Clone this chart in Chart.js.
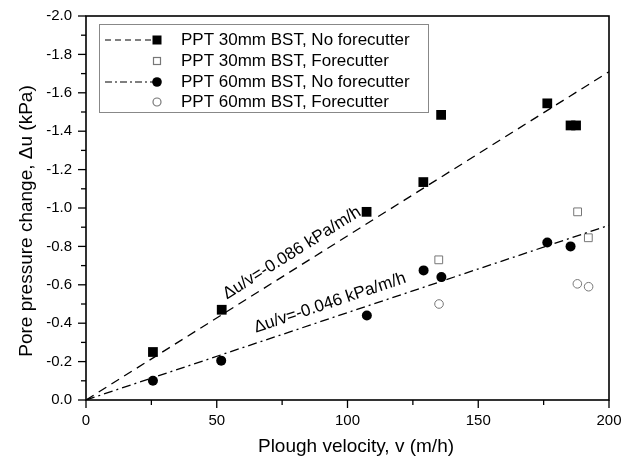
<!DOCTYPE html>
<html lang="en">
<head>
    <meta charset="UTF-8">
    <title>Pore pressure change vs plough velocity</title>
    <script src="https://cdn.jsdelivr.net/npm/chart.js@4.4.1/dist/chart.umd.min.js"></script>
    <style>
        html, body { margin: 0; padding: 0; background: #fff; }
        #chart { display: block; }
    </style>
</head>
<body>
    <canvas id="chart" width="633" height="461"></canvas>

    <script>
      // PPT 30mm BST, no forecutter (filled squares)
      const sq30NoFcX = [25.6, 51.9, 107.3, 129.0, 135.8, 176.4, 185.3, 187.4];
      const sq30NoFcY = [-0.25, -0.47, -0.98, -1.135, -1.485, -1.545, -1.43, -1.43];

      // PPT 30mm BST, forecutter (open squares)
      const sq30FcX = [134.9, 188.0, 192.1];
      const sq30FcY = [-0.73, -0.98, -0.845];

      // PPT 60mm BST, no forecutter (filled circles)
      const ci60NoFcX = [25.6, 51.7, 107.4, 129.1, 135.9, 176.4, 185.3];
      const ci60NoFcY = [-0.10, -0.205, -0.44, -0.675, -0.64, -0.82, -0.80];

      // PPT 60mm BST, forecutter (open circles)
      const ci60FcX = [135.0, 187.9, 192.2];
      const ci60FcY = [-0.50, -0.605, -0.59];

      // fitted lines (end points)
      const fit30X = [0, 200];
      const fit30Y = [0, -1.71];
      const fit60X = [0, 200];
      const fit60Y = [0, -0.91];

      const legendLabels = [
        'PPT 30mm BST, No forecutter',
        'PPT 30mm BST, Forecutter',
        'PPT 60mm BST, No forecutter',
        'PPT 60mm BST, Forecutter'
      ];
      const fitLabels = ['\u0394u/v=-0.086 kPa/m/h', '\u0394u/v=-0.046 kPa/m/h'];
      const xTitle = 'Plough velocity, v (m/h)';
      const yTitle = 'Pore pressure change, \u0394u (kPa)';

      const FONT = '"Liberation Sans", Arial, sans-serif';
      const GREY = '#777';

      function toPoints(xs, ys) {
        return xs.map((x, i) => ({ x: x, y: ys[i] }));
      }

      // tick marks, frame, axis titles, fit labels and the legend box
      const extrasPlugin = {
        id: 'extras',
        afterDraw(chart) {
          const ctx = chart.ctx;
          const xs = chart.scales.x;
          const ys = chart.scales.y;
          const area = chart.chartArea;

          ctx.save();
          ctx.strokeStyle = '#000';
          ctx.lineWidth = 1.3;
          // x ticks (outward)
          for (let v = 0; v <= 200; v += 25) {
            const px = xs.getPixelForValue(v);
            const len = (v % 50 === 0) ? 8 : 5;
            ctx.beginPath();
            ctx.moveTo(px, area.bottom);
            ctx.lineTo(px, area.bottom + len);
            ctx.stroke();
          }
          // y ticks (outward)
          for (let i = 0; i <= 20; i++) {
            const py = ys.getPixelForValue(-i / 10);
            const len = (i % 2 === 0) ? 8 : 5;
            ctx.beginPath();
            ctx.moveTo(area.left, py);
            ctx.lineTo(area.left - len, py);
            ctx.stroke();
          }
          // frame
          ctx.lineWidth = 1.6;
          ctx.strokeRect(area.left, area.top, area.right - area.left, area.bottom - area.top);

          // axis titles
          ctx.fillStyle = '#000';
          ctx.font = '19px ' + FONT;
          ctx.textAlign = 'center';
          ctx.textBaseline = 'alphabetic';
          ctx.fillText(xTitle, 356, 452);
          ctx.save();
          ctx.translate(32, 221);
          ctx.rotate(-Math.PI / 2);
          ctx.fillText(yTitle, 0, 0);
          ctx.restore();

          // fit labels along the lines
          ctx.font = '17px ' + FONT;
          ctx.textBaseline = 'middle';
          const fitDefs = [
            { text: fitLabels[0], x: 78.8, y: -0.765, ex: fit30X, ey: fit30Y },
            { text: fitLabels[1], x: 93.3, y: -0.505, ex: fit60X, ey: fit60Y }
          ];
          fitDefs.forEach(f => {
            const dx = xs.getPixelForValue(f.ex[1]) - xs.getPixelForValue(f.ex[0]);
            const dy = ys.getPixelForValue(f.ey[1]) - ys.getPixelForValue(f.ey[0]);
            ctx.save();
            ctx.translate(xs.getPixelForValue(f.x), ys.getPixelForValue(f.y));
            ctx.rotate(Math.atan2(dy, dx));
            ctx.fillText(f.text, 0, 0);
            ctx.restore();
          });

          // legend
          const lx = 99, ly = 24, lw = 329, lh = 88;
          ctx.fillStyle = '#fff';
          ctx.fillRect(lx, ly, lw, lh);
          ctx.strokeStyle = '#888';
          ctx.lineWidth = 1;
          ctx.strokeRect(lx + 0.5, ly + 0.5, lw, lh);

          const rows = [40, 61, 82, 102];
          const mx = 157;
          rows.forEach((ry, i) => {
            ctx.strokeStyle = '#000';
            ctx.lineWidth = 1.2;
            if (i === 0 || i === 2) {
              ctx.setLineDash(i === 0 ? [6, 4] : [7, 3, 2, 3]);
              ctx.beginPath();
              ctx.moveTo(105, ry);
              ctx.lineTo(mx, ry);
              ctx.stroke();
              ctx.setLineDash([]);
            }
            ctx.beginPath();
            if (i === 0) {
              ctx.fillStyle = '#000';
              ctx.fillRect(mx - 4.5, ry - 4.5, 9, 9);
            } else if (i === 1) {
              ctx.strokeStyle = GREY;
              ctx.strokeRect(mx - 3.5, ry - 3.5, 7, 7);
            } else if (i === 2) {
              ctx.fillStyle = '#000';
              ctx.arc(mx, ry, 4.8, 0, Math.PI * 2);
              ctx.fill();
            } else {
              ctx.strokeStyle = GREY;
              ctx.arc(mx, ry, 4, 0, Math.PI * 2);
              ctx.stroke();
            }
            ctx.fillStyle = '#000';
            ctx.font = '17px ' + FONT;
            ctx.textAlign = 'left';
            ctx.textBaseline = 'middle';
            ctx.fillText(legendLabels[i], 181, ry);
          });
          ctx.restore();
        }
      };

      new Chart(document.getElementById('chart'), {
        type: 'scatter',
        data: {
          datasets: [
            {
              label: 'fit 30',
              data: toPoints(fit30X, fit30Y),
              showLine: true,
              borderColor: '#000',
              borderWidth: 1.3,
              borderDash: [9, 6],
              pointRadius: 0
            },
            {
              label: 'fit 60',
              data: toPoints(fit60X, fit60Y),
              showLine: true,
              borderColor: '#000',
              borderWidth: 1.3,
              borderDash: [9, 4, 2, 4],
              pointRadius: 0
            },
            {
              label: legendLabels[0],
              data: toPoints(sq30NoFcX, sq30NoFcY),
              pointStyle: 'rect',
              pointRadius: 6.9,
              backgroundColor: '#000',
              borderColor: '#000',
              borderWidth: 0
            },
            {
              label: legendLabels[1],
              data: toPoints(sq30FcX, sq30FcY),
              pointStyle: 'rect',
              pointRadius: 5.5,
              backgroundColor: '#fff',
              borderColor: GREY,
              borderWidth: 1
            },
            {
              label: legendLabels[2],
              data: toPoints(ci60NoFcX, ci60NoFcY),
              pointStyle: 'circle',
              pointRadius: 5,
              backgroundColor: '#000',
              borderColor: '#000',
              borderWidth: 0
            },
            {
              label: legendLabels[3],
              data: toPoints(ci60FcX, ci60FcY),
              pointStyle: 'circle',
              pointRadius: 4.3,
              backgroundColor: '#fff',
              borderColor: GREY,
              borderWidth: 1
            }
          ]
        },
        options: {
          responsive: false,
          animation: false,
          devicePixelRatio: 1,
          layout: { padding: { top: 16, right: 24, left: 0, bottom: 0 } },
          plugins: {
            legend: { display: false },
            tooltip: { enabled: false }
          },
          scales: {
            x: {
              type: 'linear',
              min: 0,
              max: 200,
              grid: { display: false },
              border: { display: false },
              ticks: {
                stepSize: 50,
                color: '#000',
                padding: 4,
                maxRotation: 0,
                font: { family: FONT, size: 15 }
              },
              afterFit(scale) { scale.height = 61; }
            },
            y: {
              type: 'linear',
              min: -2,
              max: 0,
              reverse: true,
              grid: { display: false },
              border: { display: false },
              ticks: {
                stepSize: 0.2,
                color: '#000',
                padding: 6,
                font: { family: FONT, size: 15 },
                callback: v => v.toFixed(1)
              },
              afterFit(scale) { scale.width = 86; }
            }
          }
        },
        plugins: [extrasPlugin]
      });
    </script>
</body>
</html>
